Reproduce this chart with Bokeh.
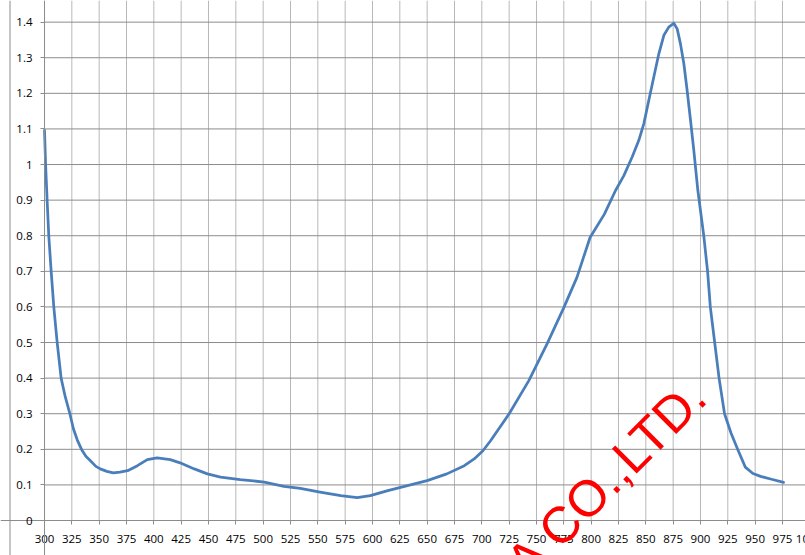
from bokeh.plotting import figure
from bokeh.models import Range1d, FixedTicker, Label, Span
from bokeh.embed import file_html
from bokeh.resources import INLINE

wavelength = [300, 301, 302.4, 303.9, 306.1, 308.5, 311.6, 315.2, 319, 323.2, 326.5, 330,
              334, 338, 342, 347, 351, 357, 363, 369, 376, 385, 394, 403, 415, 424, 437,
              449, 461, 479, 501, 519, 534, 552, 571, 586, 598, 614, 632, 650, 668, 684,
              693, 701, 708, 725, 743, 760, 775, 787, 793, 799, 812, 822.3, 829.9, 837.5,
              843.6, 848.2, 852.7, 857.3, 861.9, 866.5, 871, 875.6, 878.7, 881.7, 884.8,
              887.8, 890.9, 893.9, 897.6, 903, 906.5, 909, 913, 917, 922, 928, 934, 941,
              948, 955, 965, 976]
absorbance = [1.096, 1.0, 0.9, 0.8, 0.7, 0.6, 0.5, 0.4, 0.347, 0.3, 0.257, 0.226,
              0.199, 0.18, 0.168, 0.152, 0.145, 0.138, 0.134, 0.136, 0.140, 0.154, 0.171,
              0.176, 0.171, 0.162, 0.145, 0.131, 0.122, 0.115, 0.108, 0.096, 0.090, 0.080,
              0.070, 0.064, 0.070, 0.084, 0.098, 0.112, 0.131, 0.154, 0.173, 0.196, 0.224,
              0.30, 0.393, 0.4985, 0.598, 0.683, 0.739, 0.795, 0.86, 0.927, 0.969, 1.021,
              1.068, 1.115, 1.180, 1.246, 1.311, 1.363, 1.386, 1.397, 1.381, 1.339, 1.283,
              1.208, 1.124, 1.040, 0.927, 0.8, 0.7, 0.6, 0.5, 0.4, 0.3, 0.245, 0.2, 0.15,
              0.132, 0.124, 0.116, 0.107]

x_ticks = [300, 325, 350, 375, 400, 425, 450, 475, 500, 525, 550, 575, 600, 625, 650,
           675, 700, 725, 750, 775, 800, 825, 850, 875, 900, 925, 950, 975]
y_ticks = [0, 0.1, 0.2, 0.3, 0.4, 0.5, 0.6, 0.7, 0.8, 0.9, 1, 1.1, 1.2, 1.3, 1.4]
y_tick_labels = ["0", "0.1", "0.2", "0.3", "0.4", "0.5", "0.6", "0.7", "0.8", "0.9",
                 "1", "1.1", "1.2", "1.3", "1.4"]
last_tick_value = 1000
last_tick_visible_text = "10"      # the 1000 label is cut by the picture's right edge
watermark_text = "A CO.,LTD."

FONT = "Open Sans"
GRID_H = "#8c8c8c"
GRID_V = "#b8b8b8"

# view window (the chart is seen cropped, axes drawn inside the frame)
X_START, X_END = 259.75, 996.06
Y_START, Y_END = -0.0983, 1.4608
X_MIN_AXIS, Y_MIN_AXIS = 300, 0

p = figure(width=805, height=555,
           x_range=Range1d(X_START, X_END), y_range=Range1d(Y_START, Y_END),
           output_backend="svg", toolbar_location=None,
           min_border=0, min_border_left=0, min_border_right=0,
           min_border_top=0, min_border_bottom=0,
           background_fill_color="white", border_fill_color="white")
p.outline_line_color = None
p.xgrid.visible = False
p.ygrid.visible = False

# chart-area border line at the far left
px_per_x = 805 / (X_END - X_START)
p.add_layout(Span(location=X_START + 9.5 / px_per_x, dimension="height",
                  line_color=GRID_H, line_width=1))

# grid lines limited to the plot area
p.segment(x0=x_ticks, y0=[Y_MIN_AXIS] * len(x_ticks), x1=x_ticks, y1=[Y_END] * len(x_ticks),
          line_color=GRID_V, line_width=1)
p.segment(x0=[X_MIN_AXIS] * len(y_ticks), y0=y_ticks, x1=[X_END] * len(y_ticks), y1=y_ticks,
          line_color=GRID_H, line_width=1)

p.line(wavelength, absorbance, line_color="#4a7ebb", line_width=2.75,
       line_join="round", line_cap="round")

p.xaxis.ticker = FixedTicker(ticks=x_ticks)
p.yaxis.ticker = FixedTicker(ticks=y_ticks)
p.yaxis.major_label_overrides = {t: s for t, s in zip(y_ticks, y_tick_labels)}
p.xaxis.fixed_location = Y_MIN_AXIS
p.yaxis.fixed_location = X_MIN_AXIS

for ax in (p.xaxis[0], p.yaxis[0]):
    ax.axis_line_color = GRID_H
    ax.axis_line_width = 1
    ax.major_tick_line_color = GRID_H
    ax.major_tick_in = 0
    ax.major_tick_out = 4
    ax.minor_tick_line_color = None
    ax.major_label_text_font = FONT
    ax.major_label_text_font_size = "11.5px"
    ax.major_label_text_color = "#000000"
p.yaxis.major_label_standoff = 8
p.xaxis.major_label_standoff = 10

# cut-off last tick label at the right edge
p.add_layout(Label(x=last_tick_value, y=Y_MIN_AXIS, x_offset=-14, y_offset=-14,
                   text=last_tick_visible_text, text_align="left",
                   text_baseline="top", text_font=FONT, text_font_size="11.5px",
                   text_color="#000000"))

# watermark
p.add_layout(Label(x=898.6, y=0.376, text=watermark_text, angle=45, angle_units="deg",
                   text_align="right", text_baseline="alphabetic",
                   text_font="Liberation Sans", text_font_size="51px",
                   text_color="#ff0000"))

open("out.html", "w").write(file_html(p, INLINE))
